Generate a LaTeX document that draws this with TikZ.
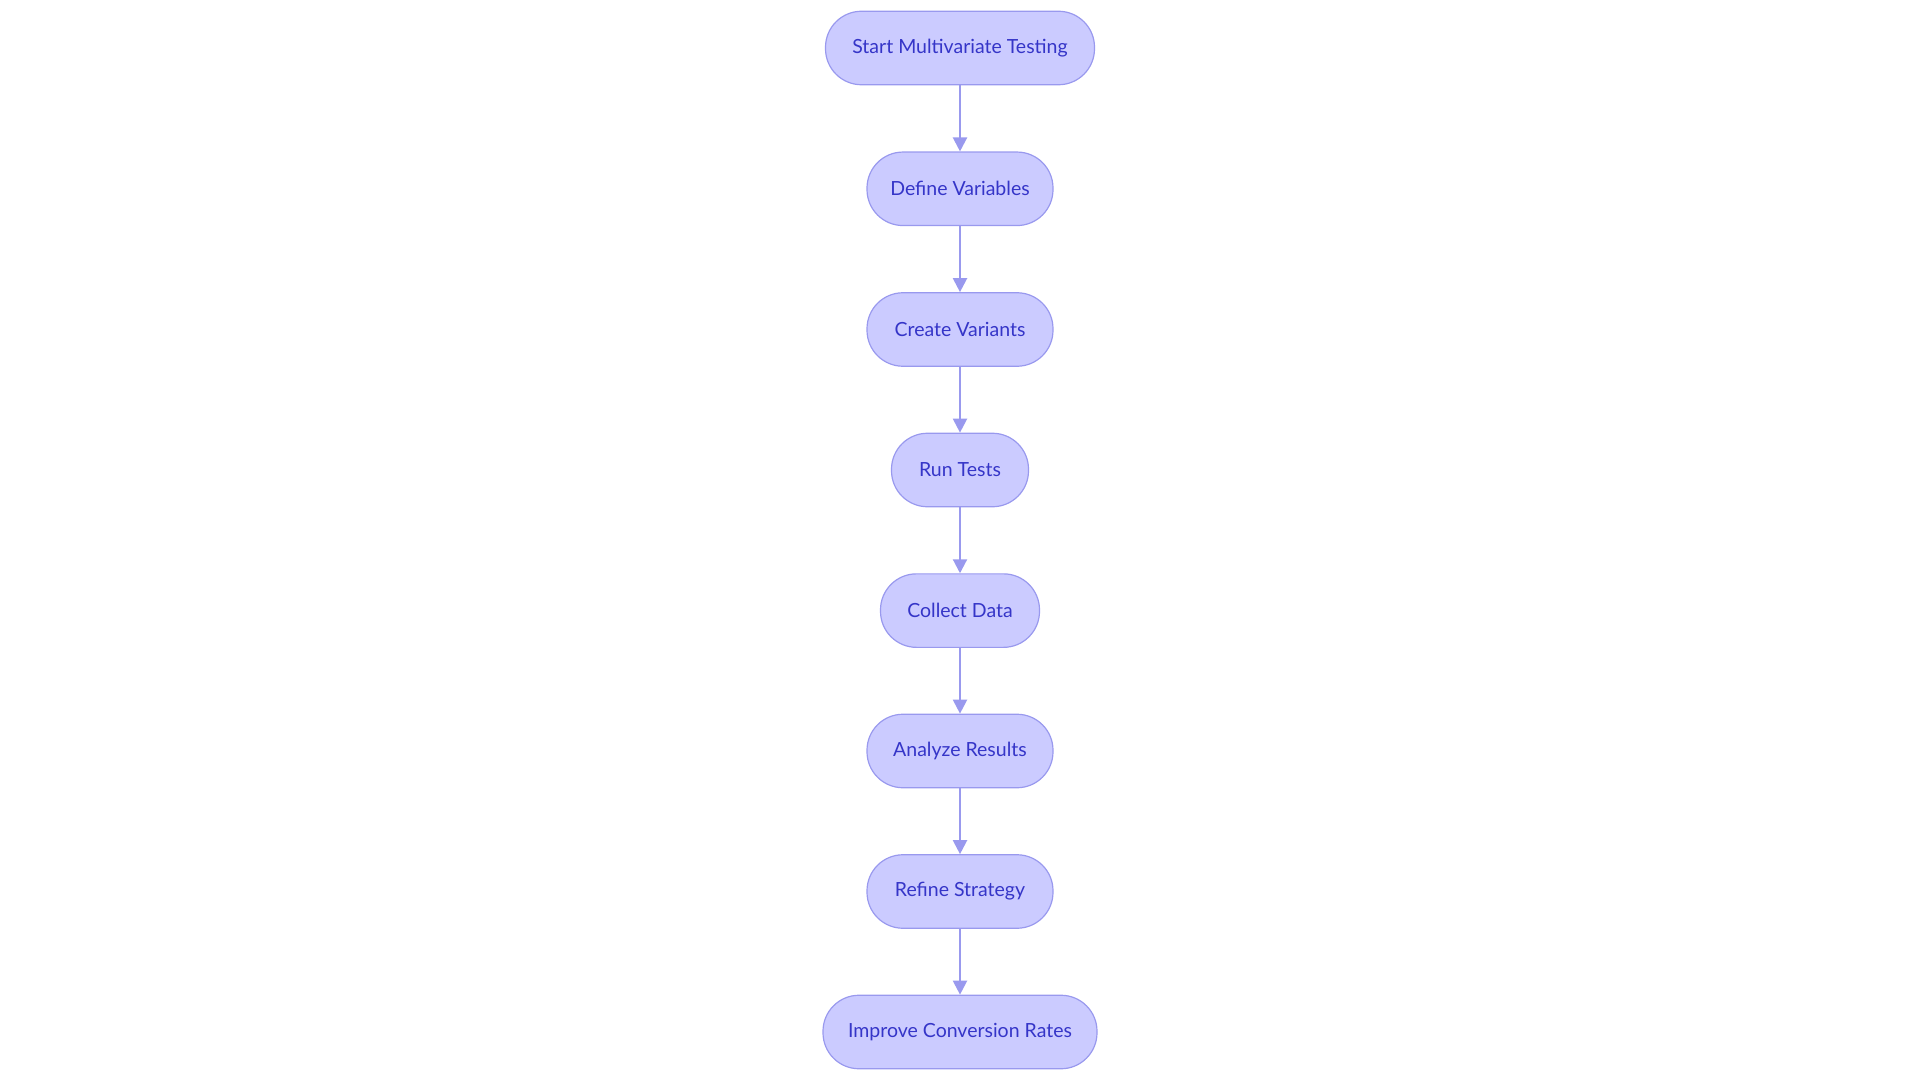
\documentclass[tikz,border=0pt]{standalone}
\usepackage{fontspec}
\setmainfont{Lato}
\usetikzlibrary{arrows.meta}
\definecolor{nfill}{HTML}{CBCBFF}
\definecolor{nline}{HTML}{9999EE}
\definecolor{ntext}{HTML}{3535C8}
\begin{document}
\begin{tikzpicture}[x=1pt,y=-1pt,
  stepbox/.style={draw=nline,fill=nfill,line width=1.2pt,rounded corners=36pt,minimum height=73.5pt,inner sep=0pt,text=ntext,font=\fontsize{19.5}{22}\selectfont},
  conn/.style={draw=nline,line width=2.2pt,-{Triangle[length=14pt,width=14pt]}}]
\useasboundingbox (0,0) rectangle (1920,1083);
\node[stepbox,minimum width=269pt] (a) at (960,48) {Start Multivariate Testing};
\node[stepbox,minimum width=186pt] (b) at (960,188.8) {Define Variables};
\node[stepbox,minimum width=186pt] (c) at (960,329.5) {Create Variants};
\node[stepbox,minimum width=137pt] (d) at (960,470) {Run Tests};
\node[stepbox,minimum width=159pt] (e) at (960,610.6) {Collect Data};
\node[stepbox,minimum width=186pt] (f) at (960,751) {Analyze Results};
\node[stepbox,minimum width=186pt] (g) at (960,891.5) {Refine Strategy};
\node[stepbox,minimum width=274pt] (h) at (960,1032) {Improve Conversion Rates};
\foreach \s/\t in {a/b,b/c,c/d,d/e,e/f,f/g,g/h} \draw[conn] (\s) -- (\t);
\end{tikzpicture}
\end{document}
